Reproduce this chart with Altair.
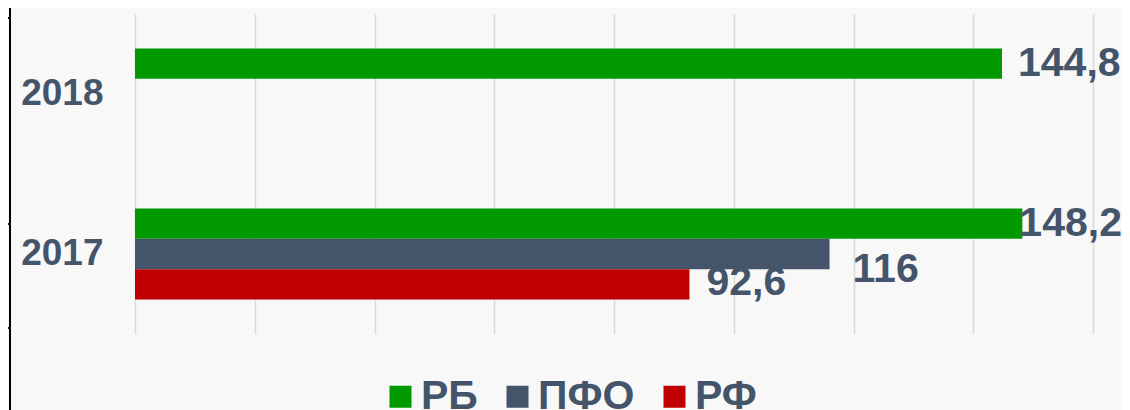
import altair as alt
import pandas as pd

years = ["2018", "2017"]
series = ["РБ", "ПФО", "РФ"]
colors = ["#009900", "#44546A", "#C00000"]
rb = [144.8, 148.2]
pfo = [None, 116]
rf = [None, 92.6]

rows = []
for s, vals in zip(series, [rb, pfo, rf]):
    for y, v in zip(years, vals):
        if v is not None:
            rows.append({"year": y, "series": s, "value": v,
                         "label": f"{v:g}".replace(".", ",")})
df = pd.DataFrame(rows)

FONT = "Liberation Sans"
TXT = "#44546A"

y_enc = alt.Y("year:N", sort=years,
              scale=alt.Scale(domain=years, paddingInner=0.43, paddingOuter=0.215),
              axis=alt.Axis(title=None, labelFontSize=37, labelFont=FONT,
                            labelFontWeight="bold", labelColor=TXT, ticks=False,
                            domain=False, labelPadding=32, grid=False))
yoff = alt.YOffset("series:N", scale=alt.Scale(domain=series, paddingInner=0, paddingOuter=0))
x_enc = alt.X("value:Q", scale=alt.Scale(domain=[0, 160], nice=False),
              axis=alt.Axis(title=None, labels=False, ticks=False, domain=False,
                            grid=True, gridColor="#d9d9d9", gridWidth=1.5,
                            values=[0, 20, 40, 60, 80, 100, 120, 140, 160]))

base = alt.Chart(df)
bars = base.mark_bar().encode(
    x=x_enc, y=y_enc, yOffset=yoff,
    color=alt.Color("series:N", scale=alt.Scale(domain=series, range=colors),
                    legend=alt.Legend(title=None, orient="none", legendX=245, legendY=362,
                                      direction="horizontal", symbolType="square",
                                      symbolSize=484, symbolStrokeWidth=0, symbolOpacity=1,
                                      labelFontSize=41, labelFont=FONT, labelFontWeight="bold",
                                      labelColor=TXT, columnPadding=19, labelOffset=0,
                                      padding=0)),
)

offsets = {("РБ", "2018"): (16, 0), ("РБ", "2017"): (-3, 0),
           ("ПФО", "2017"): (23, 16), ("РФ", "2017"): (17, -1)}
texts = []
for (s, y), (dx, dy) in offsets.items():
    texts.append(
        base.transform_filter((alt.datum.series == s) & (alt.datum.year == y))
        .mark_text(align="left", baseline="middle", dx=dx, dy=dy, font=FONT,
                   fontWeight="bold", fontSize=41, color=TXT)
        .encode(x="value:Q", y=alt.Y("year:N", sort=years), yOffset=yoff, text="label:N")
    )

one = alt.Data(values=[{}])
deco = [alt.Chart(one).mark_rule(color="black", strokeWidth=2).encode(
    x=alt.value(-125), y=alt.value(-14), y2=alt.value(400))]
for ty in [4, 210, 314]:
    deco.append(alt.Chart(one).mark_rule(color="black", strokeWidth=2).encode(
        x=alt.value(-135), x2=alt.value(-125), y=alt.value(ty)))

chart = alt.layer(bars, *texts, *deco).properties(
    width=958, height=320,
    autosize=alt.AutoSizeParams(type="none"),
    padding={"left": 127, "top": 6, "right": 29, "bottom": 90},
    background="#f8f8f8",
).configure_view(stroke=None)

chart.save("out.html", embed_options={"renderer": "svg", "actions": False})
